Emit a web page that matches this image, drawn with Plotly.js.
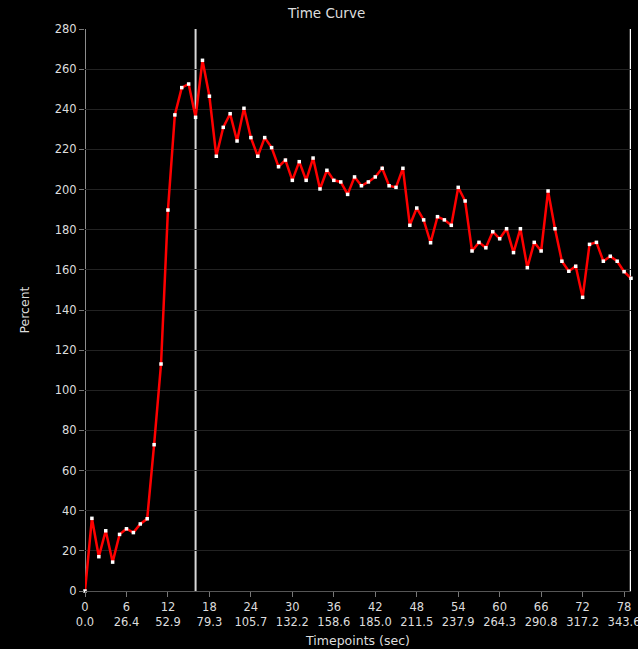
<!DOCTYPE html>
<html>
<head>
<meta charset="utf-8">
<script src="https://cdn.plot.ly/plotly-3.0.1.min.js"></script>
<style>html,body{margin:0;padding:0;background:#000;}#chart{width:638px;height:649px;}</style>
</head>
<body>
<div id="chart"></div>
<script>
// Time curve values (percent) for timepoints 0..79
const percentValues = [
  0, 36.2, 17.1, 30.0, 14.4, 28.2, 31.0, 29.1, 33.4, 36.0,
  72.9, 113.1, 189.8, 237.2, 250.8, 252.6, 236.0, 264.4, 246.5, 216.6,
  231.0, 237.8, 224.2, 240.5, 225.9, 216.6, 225.9, 220.9, 211.4, 214.7,
  204.6, 213.9, 204.6, 215.7, 200.3, 209.6, 204.6, 203.8, 197.6, 206.3,
  201.9, 203.8, 206.3, 210.6, 201.9, 201.1, 210.6, 182.2, 190.8, 184.9,
  173.5, 186.5, 184.9, 182.2, 201.1, 194.3, 169.4, 173.7, 171.0, 179.0,
  175.5, 180.5, 168.6, 180.5, 161.1, 173.7, 169.4, 199.3, 180.5, 164.3,
  159.3, 161.8, 146.3, 172.7, 173.7, 164.3, 166.8, 164.3, 159.1, 155.8
];
const timepoints = percentValues.map((v, i) => i);
const tickIndices = [0, 6, 12, 18, 24, 30, 36, 42, 48, 54, 60, 66, 72, 78];
const tickSeconds = ["0.0", "26.4", "52.9", "79.3", "105.7", "132.2", "158.6", "185.0", "211.5", "237.9", "264.3", "290.8", "317.2", "343.6"];
const markerLines = [0, 16, 79];

const tickText = tickIndices.map((t, i) => t + "<br>" + tickSeconds[i]);

const trace = {
  x: timepoints,
  y: percentValues,
  type: 'scatter',
  mode: 'lines+markers',
  line: {color: '#ff0000', width: 2.5},
  marker: {color: '#ffffff', size: 3.5, symbol: 'square'},
  hoverinfo: 'x+y',
  cliponaxis: false
};

const lineColors = ['#bbbbbb', '#d8d8d8', '#ffffff'];
const lineWidths = [1.5, 2, 2.5];
const shapes = markerLines.map((x, i) => ({
  type: 'line', xref: 'x', yref: 'paper', x0: x, x1: x, y0: 0, y1: 1,
  line: {color: lineColors[i], width: lineWidths[i]}, layer: 'below'
}));

const font = {family: 'DejaVu Sans, Verdana, sans-serif', color: '#dddddd', size: 11};

const layout = {
  width: 638, height: 649,
  paper_bgcolor: '#000000', plot_bgcolor: '#000000',
  margin: {l: 85, r: 7, t: 29, b: 58},
  font: font,
  showlegend: false,
  title: {text: 'Time Curve', x: 0.512, xref: 'container', y: 0.98, yref: 'container', yanchor: 'middle',
          font: {family: font.family, color: '#dddddd', size: 13.5}},
  xaxis: {
    range: [0, 79], tickmode: 'array', tickvals: tickIndices, ticktext: tickText,
    showgrid: false, zeroline: false, showline: true, linecolor: '#555555', linewidth: 1,
    ticks: 'outside', ticklen: 5, tickcolor: '#777777', ticklabeloverflow: 'allow',
    tickfont: {family: font.family, color: '#dddddd', size: 11.5},
    title: {text: 'Timepoints (sec)', standoff: 8, font: {family: font.family, color: '#dddddd', size: 12.5}}
  },
  yaxis: {
    range: [0, 280], dtick: 20, tick0: 0,
    showgrid: true, gridcolor: '#222222', gridwidth: 1, zeroline: false,
    showline: false, ticks: 'outside', ticklen: 5, tickcolor: '#777777',
    tickfont: {family: font.family, color: '#dddddd', size: 11.5},
    title: {text: 'Percent', standoff: 22, font: {family: font.family, color: '#dddddd', size: 12.5}}
  },
  shapes: shapes
};

Plotly.newPlot('chart', [trace], layout, {displayModeBar: false, staticPlot: true});
</script>
</body>
</html>
